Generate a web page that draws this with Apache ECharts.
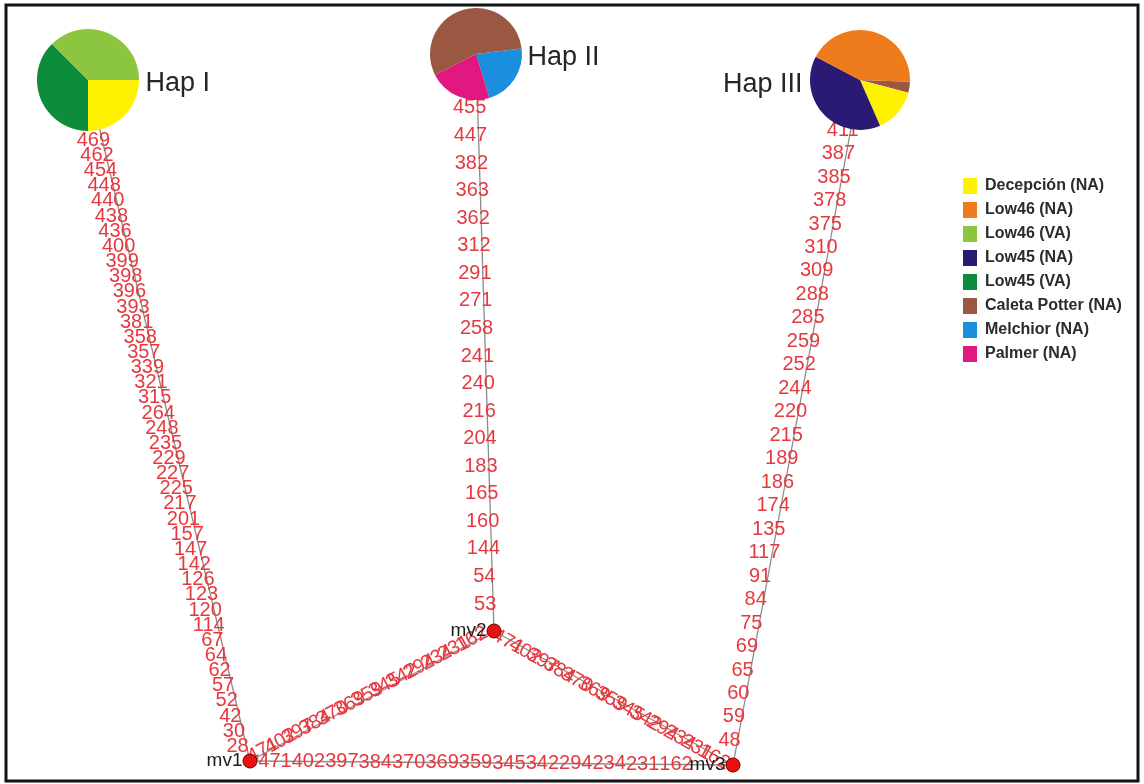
<!DOCTYPE html>
<html>
<head>
<meta charset="utf-8">
<script src="https://cdn.jsdelivr.net/npm/echarts@6/dist/echarts.min.js"></script>
<style>
  html, body { margin: 0; padding: 0; background: #ffffff; }
  #chart { width: 1144px; height: 784px; }
</style>
</head>
<body>
<div id="chart"></div>
<script>
// Sampling groups shown in the legend
const groups = ['Decepción (NA)', 'Low46 (NA)', 'Low46 (VA)', 'Low45 (NA)', 'Low45 (VA)',
                'Caleta Potter (NA)', 'Melchior (NA)', 'Palmer (NA)'];

// Haplotype composition: number of sequences from each group (same order as groups)
const hapNames = ['Hap I', 'Hap II', 'Hap III'];
const hapICounts   = [2, 0, 3, 0, 3, 0, 0, 0];
const hapIICounts  = [0, 0, 0, 0, 0, 5, 2, 2];
const hapIIICounts = [4, 12, 0, 11, 0, 1, 0, 0];

// Network nodes and their layout coordinates
const nodeNames = ['Hap I', 'Hap II', 'Hap III', 'mv1', 'mv2', 'mv3'];
const nodeX = [88, 476, 860, 250, 494, 733];
const nodeY = [80, 54, 80, 761, 631, 765];

// Mutated sites on every branch, listed from the first node towards the second
const mutHapI = [469, 462, 454, 448, 440, 438, 436, 400, 399, 398, 396, 393, 381, 358, 357, 339,
                 321, 315, 264, 248, 235, 229, 227, 225, 217, 201, 157, 147, 142, 126, 123, 120,
                 114, 67, 64, 62, 57, 52, 42, 30, 28];
const mutHapII = [455, 447, 382, 363, 362, 312, 291, 271, 258, 241, 240, 216, 204, 183, 165, 160,
                  144, 54, 53];
const mutHapIII = [411, 387, 385, 378, 375, 310, 309, 288, 285, 259, 252, 244, 220, 215, 189, 186,
                   174, 135, 117, 91, 84, 75, 69, 65, 60, 59, 48];
const mutMv1Mv2 = [471, 402, 397, 384, 370, 369, 359, 345, 342, 294, 234, 231, 162];
const mutMv2Mv3 = [471, 402, 397, 384, 370, 369, 359, 345, 342, 294, 234, 231, 162];
const mutMv1Mv3 = [471, 402, 397, 384, 370, 369, 359, 345, 342, 294, 234, 231, 162];

const edgeFrom = ['Hap I', 'Hap II', 'Hap III', 'mv1', 'mv2', 'mv1'];
const edgeTo   = ['mv1', 'mv2', 'mv3', 'mv2', 'mv3', 'mv3'];
const edgeMutations = [mutHapI, mutHapII, mutHapIII, mutMv1Mv2, mutMv2Mv3, mutMv1Mv3];

// ---- styling ----
const groupColors = ['#fff200', '#ee7b1c', '#8cc63f', '#2a1a73', '#0d8c3b', '#9a5843', '#1a8fdd', '#e0187f'];
const FONT = '"Liberation Sans", Arial, Helvetica, sans-serif';
const MUT_COLOR = '#e6393f';
const MUT_FONT_SIZE = 20;

// how mutation labels are spread along each branch (pixels from the ends, offset from the line)
const labelLayout = [
  { start: 62, end: 15, dx: -9, dy: 0, rotate: false },
  { start: 54, end: 27, dx: -8, dy: 0, rotate: false },
  { start: 51, end: 25, dx: -8, dy: 0, rotate: false },
  { start: 16, end: 24, dx: -1, dy: -3, rotate: true },
  { start: 16, end: 22, dx: 0, dy: 3, rotate: true },
  { start: 25, end: 57, dx: 0, dy: 0, rotate: false }
];

// pie geometry for each haplotype: radius, start angle and slice order (group indices)
const pieLook = [
  { r: 51, startAngle: 0, order: [0, 4, 2], labelPos: 'right', labelDist: 57, labelDy: 4 },
  { r: 46, startAngle: 7, order: [6, 7, 5], labelPos: 'right', labelDist: 51, labelDy: 4 },
  { r: 50, startAngle: -2, order: [5, 0, 3, 1], labelPos: 'left', labelDist: 57, labelDy: 5 }
];
const hapCounts = [hapICounts, hapIICounts, hapIIICounts];

const idx = name => nodeNames.indexOf(name);

const chart = echarts.init(document.getElementById('chart'), null, { renderer: 'canvas' });

const edgeData = edgeFrom.map((f, i) => {
  const a = idx(f), b = idx(edgeTo[i]);
  return [nodeX[a], nodeY[a], nodeX[b], nodeY[b]];
});

function renderEdge(params, api) {
  const p1 = api.coord([api.value(0), api.value(1)]);
  const p2 = api.coord([api.value(2), api.value(3)]);
  const muts = edgeMutations[params.dataIndex];
  const lay = labelLayout[params.dataIndex];
  const dx = p2[0] - p1[0], dy = p2[1] - p1[1];
  const len = Math.sqrt(dx * dx + dy * dy);
  const ux = dx / len, uy = dy / len;
  const n = muts.length;
  const step = n > 1 ? (len - lay.start - lay.end) / (n - 1) : 0;
  const rot = lay.rotate ? -Math.atan2(dy, dx) : 0;
  const children = [{
    type: 'line',
    shape: { x1: p1[0], y1: p1[1], x2: p2[0], y2: p2[1] },
    style: { stroke: '#8c8c8c', lineWidth: 1.3 },
    z2: 1
  }];
  muts.forEach((m, k) => {
    const d = lay.start + k * step;
    children.push({
      type: 'text',
      x: p1[0] + ux * d + lay.dx,
      y: p1[1] + uy * d + lay.dy,
      rotation: rot,
      style: {
        text: String(m),
        fill: MUT_COLOR,
        font: MUT_FONT_SIZE + 'px ' + FONT,
        align: 'center',
        verticalAlign: 'middle'
      },
      z2: 2
    });
  });
  return { type: 'group', children: children };
}

const mvIdx = nodeNames.map((n, i) => i).filter(i => nodeNames[i].startsWith('mv'));
const hapIdx = hapNames.map(h => idx(h));

chart.setOption({
  animation: false,
  backgroundColor: '#ffffff',
  grid: { left: 0, right: 0, top: 0, bottom: 0 },
  xAxis: { type: 'value', min: 0, max: 1144, show: false },
  yAxis: { type: 'value', min: 0, max: 784, inverse: true, show: false },
  legend: {
    data: groups,
    orient: 'vertical',
    left: 963,
    top: 178,
    padding: 0,
    icon: 'rect',
    itemWidth: 14,
    itemHeight: 16,
    itemGap: 8,
    selectedMode: false,
    textStyle: { fontFamily: FONT, fontSize: 16, fontWeight: 'bold', color: '#2b2b2b', padding: [0, 0, 0, 3] }
  },
  graphic: [{
    type: 'rect',
    shape: { x: 6, y: 5, width: 1132, height: 776 },
    style: { fill: 'none', stroke: '#111111', lineWidth: 3 },
    z: 100,
    silent: true
  }],
  series: [
    {
      id: 'branches',
      type: 'custom',
      coordinateSystem: 'cartesian2d',
      encode: { x: [0, 2], y: [1, 3] },
      data: edgeData,
      renderItem: renderEdge,
      silent: true,
      z: 1
    },
    {
      id: 'median-vectors',
      type: 'scatter',
      data: mvIdx.map(i => ({ name: nodeNames[i], value: [nodeX[i], nodeY[i]] })),
      symbol: 'circle',
      symbolSize: 14,
      itemStyle: { color: '#ec1010', borderColor: '#6a0000', borderWidth: 1, opacity: 1 },
      label: {
        show: true, position: 'left', distance: 0, formatter: '{b}',
        fontFamily: FONT, fontSize: 19, color: '#1c1c1c'
      },
      silent: true,
      z: 6
    },
    {
      id: 'haplotype-labels',
      type: 'scatter',
      data: hapIdx.map((i, k) => ({
        name: nodeNames[i],
        value: [nodeX[i], nodeY[i]],
        label: {
          position: pieLook[k].labelPos,
          distance: pieLook[k].labelDist,
          offset: [0, pieLook[k].labelDy]
        }
      })),
      symbolSize: 1,
      itemStyle: { color: 'rgba(0,0,0,0)', opacity: 1 },
      label: { show: true, formatter: '{b}', fontFamily: FONT, fontSize: 27, color: '#262626' },
      silent: true,
      z: 6
    }
  ]
});

// haplotype pies, centred on their network nodes
const pies = hapIdx.map((i, k) => {
  const c = chart.convertToPixel({ gridIndex: 0 }, [nodeX[i], nodeY[i]]);
  const look = pieLook[k];
  return {
    id: 'pie-' + k,
    type: 'pie',
    name: hapNames[k],
    center: c,
    radius: [0, look.r],
    startAngle: look.startAngle,
    clockwise: true,
    avoidLabelOverlap: false,
    label: { show: false },
    labelLine: { show: false },
    emphasis: { disabled: true },
    silent: true,
    z: 3,
    data: look.order.map(g => ({
      name: groups[g],
      value: hapCounts[k][g],
      itemStyle: { color: groupColors[g] }
    }))
  };
});

chart.setOption({ series: pies });
</script>
</body>
</html>
